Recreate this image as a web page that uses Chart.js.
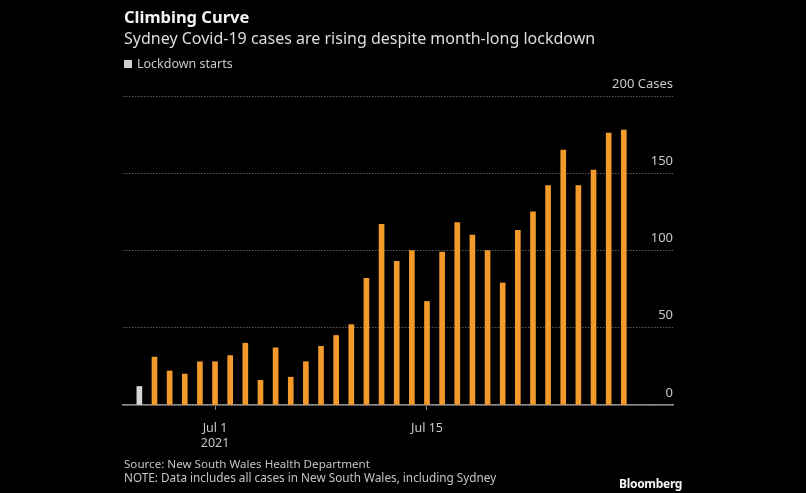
<!DOCTYPE html>
<html>
<head>
<meta charset="utf-8">
<script src="https://cdn.jsdelivr.net/npm/chart.js@4.4.1/dist/chart.umd.min.js"></script>
<style>
  html, body { margin:0; padding:0; background:#000; }
  #wrap { position:relative; width:806px; height:493px; background:#000; overflow:hidden; font-family:"Noto Sans", sans-serif; }
  #chart { position:absolute; left:0; top:0; }
  .t { position:absolute; white-space:nowrap; line-height:1; }
  #title { left:124px; top:9px; font-size:16.5px; font-weight:bold; color:#f2f2f2; }
  #sub { left:124px; top:30px; font-size:16px; color:#dedede; }
  #leg { left:124px; top:58px; font-size:12.5px; color:#c8c8c8; }
  #leg span.sw { display:inline-block; width:8px; height:8px; background:#cfcfcf; margin-right:5px; vertical-align:0px; }
  #src { left:124px; top:458px; font-size:11.6px; color:#c4c4c4; }
  #note { left:124px; top:472px; font-size:11.75px; color:#c4c4c4; }
  #bb { left:619px; top:478px; font-size:12px; font-weight:bold; color:#f4f4f4; letter-spacing:-0.3px; }
</style>
</head>
<body>
<div id="wrap">
  <canvas id="chart" width="806" height="493"></canvas>
  <div class="t" id="title">Climbing Curve</div>
  <div class="t" id="sub">Sydney Covid-19 cases are rising despite month-long lockdown</div>
  <div class="t" id="leg"><span class="sw"></span>Lockdown starts</div>
  <div class="t" id="src">Source: New South Wales Health Department</div>
  <div class="t" id="note">NOTE: Data includes all cases in New South Wales, including Sydney</div>
  <div class="t" id="bb">Bloomberg</div>
</div>
<script>
// ---- data ----
const categories = [
  "2021-06-26","2021-06-27","2021-06-28","2021-06-29","2021-06-30",
  "2021-07-01","2021-07-02","2021-07-03","2021-07-04","2021-07-05",
  "2021-07-06","2021-07-07","2021-07-08","2021-07-09","2021-07-10",
  "2021-07-11","2021-07-12","2021-07-13","2021-07-14","2021-07-15",
  "2021-07-16","2021-07-17","2021-07-18","2021-07-19","2021-07-20",
  "2021-07-21","2021-07-22","2021-07-23","2021-07-24","2021-07-25",
  "2021-07-26","2021-07-27","2021-07-28"
];
const cases = [
  12, 31, 22, 20, 28,
  28, 32, 40, 16, 37,
  18, 28, 38, 45, 52,
  82, 117, 93, 100, 67,
  99, 118, 110, 100, 79,
  113, 125, 142, 165, 142,
  152, 176, 178
];
const lockdownStart = "2021-06-26";
const xTickDates = ["2021-07-01", "2021-07-15"];
const xTickLabels = [["Jul 1", "2021"], ["Jul 15"]];
const yTickValues = [0, 50, 100, 150, 200];
const yTickLabels = ["0", "50", "100", "150", "200 Cases"];

// ---- build ----
const dayIndex = d => categories.indexOf(d);
const points = categories.map((d, i) => ({ x: i, y: cases[i] }));
const colors = categories.map(d => d === lockdownStart ? "#d6d6d6" : "#f39a2c");
const tickIdx = xTickDates.map(dayIndex);

new Chart(document.getElementById("chart"), {
  type: "bar",
  data: {
    datasets: [{
      data: points,
      backgroundColor: colors,
      borderWidth: 0,
      barThickness: 5
    }]
  },
  options: {
    responsive: false,
    animation: false,
    layout: { padding: { left: 123, right: 133, top: 96, bottom: 31 } },
    plugins: { legend: { display: false }, tooltip: { enabled: false } },
    scales: {
      x: {
        type: "linear",
        offset: false,
        bounds: "data",
        min: -1.08,
        max: 35.25,
        afterBuildTicks: s => { s.ticks = tickIdx.map(v => ({ value: v })); },
        ticks: {
          autoSkip: false,
          maxRotation: 0,
          color: "#c8c8c8",
          font: { family: "Noto Sans", size: 12.5 },
          padding: 11,
          callback: v => { const k = tickIdx.indexOf(v); return k >= 0 ? xTickLabels[k] : ""; }
        },
        grid: { display: true, offset: false, drawOnChartArea: false, drawTicks: true, tickLength: 5, color: "#8a8a8a", lineWidth: 1 },
        border: { display: true, color: "#8c8c8c", width: 1.5 }
      },
      y: {
        position: "right",
        min: 0,
        max: 200,
        afterBuildTicks: s => { s.ticks = yTickValues.map(v => ({ value: v })); },
        ticks: {
          mirror: true,
          padding: 0,
          labelOffset: -12,
          color: "#c8c8c8",
          font: { family: "Noto Sans", size: 13 },
          callback: v => { const k = yTickValues.indexOf(v); return k >= 0 ? yTickLabels[k] : ""; }
        },
        grid: { color: "#5c5c5c", lineWidth: 1, drawTicks: false },
        border: { display: false, dash: [1.5, 1.5] }
      }
    }
  }
});
</script>
</body>
</html>
